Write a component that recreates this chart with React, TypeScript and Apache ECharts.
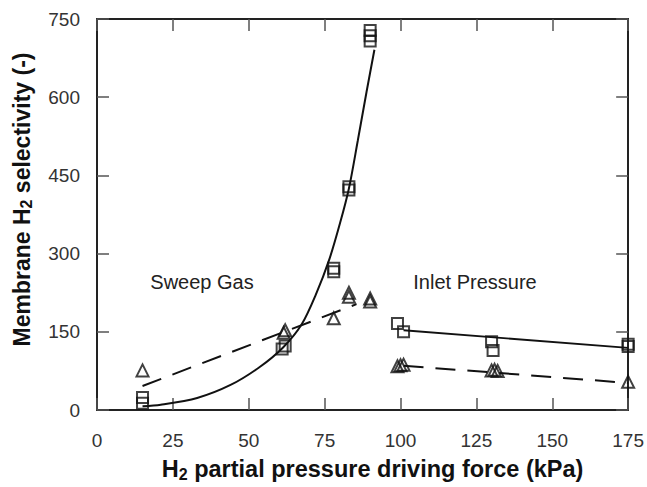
import React, { useEffect, useRef } from 'react';
import * as echarts from 'echarts';

const FONT = '"Liberation Sans", Arial, Helvetica, sans-serif';

// Axis ranges / ticks
const xMin = 0;
const xMax = 175;
const xStep = 25;
const yMin = 0;
const yMax = 750;
const yStep = 150;

// Measured points (x = H2 partial pressure driving force kPa, y = selectivity)
const sweepSquares: [number, number][] = [
  [15, 24], [15, 13], [61, 117], [62, 123], [78, 265], [78, 272],
  [83, 422], [83, 428], [90, 708], [90, 718], [90, 728],
];
const inletSquares: [number, number][] = [
  [99, 166], [101, 150], [130, 131], [130.5, 114], [175, 122], [175, 126],
];
const sweepTriangles: [number, number][] = [
  [15, 76], [61.5, 148], [62, 153], [78, 176], [83, 217], [83, 225], [90, 208], [90, 214],
];
const inletTriangles: [number, number][] = [
  [99, 84], [100, 86], [101, 87], [130, 76], [131, 77], [132, 75], [175, 54],
];

// Fit curves
const sweepSquareFitX = [15, 21, 33, 44, 53.5, 61.3, 67.4, 72, 76.6, 80.1, 83, 85.9, 88.8, 91.4];
const sweepSquareFitY = [7, 10, 23, 48, 82, 120, 164, 220, 290, 359, 425, 516, 610, 691];
const sweepTriangleFit: [number, number][] = [[15, 46], [85.5, 203]];
const inletSquareFit: [number, number][] = [[101, 153], [175, 119]];
const inletTriangleFit: [number, number][] = [[101, 85], [175, 52]];

const annotations = [
  { text: 'Sweep Gas', x: 202, y: 282 },
  { text: 'Inlet Pressure', x: 475, y: 282 },
];

const INK = '#111';

export default function App() {
  const ref = useRef<HTMLDivElement>(null);
  useEffect(() => {
    if (!ref.current) return;
    const chart = echarts.init(ref.current, undefined, { renderer: 'svg' });

    const markStyle = { color: 'rgba(255,255,255,0)', borderColor: INK, borderWidth: 2 };
    const fitX = sweepSquareFitX.map((x, i) => [x, sweepSquareFitY[i]]);

    const axisLine = { show: true, onZero: false, lineStyle: { color: '#222', width: 2 } };
    const tick = { show: true, inside: true, length: 12, lineStyle: { color: '#555', width: 1.5 } };

    chart.setOption({
      animation: false,
      backgroundColor: '#fff',
      grid: { left: 97, right: 13, top: 19, bottom: 70, containLabel: false },
      xAxis: [
        {
          type: 'value', min: xMin, max: xMax, interval: xStep, position: 'bottom',
          axisLine, axisTick: tick, splitLine: { show: false },
          axisLabel: { fontSize: 19, color: '#333', fontFamily: FONT, margin: 21 },
          name: '{t|H}{s|2}{t| partial pressure driving force (kPa)}',
          nameLocation: 'middle', nameGap: 46,
          nameTextStyle: {
            padding: [0, 0, 0, 20],
            rich: {
              t: { fontSize: 23.5, fontWeight: 'bold', fontFamily: FONT, color: INK, lineHeight: 26 },
              s: { fontSize: 16, fontWeight: 'bold', fontFamily: FONT, color: INK, verticalAlign: 'bottom', lineHeight: 20 },
            },
          },
        },
        {
          type: 'value', min: xMin, max: xMax, interval: xStep, position: 'top',
          axisLine, axisTick: tick, axisLabel: { show: false }, splitLine: { show: false },
        },
      ],
      yAxis: [
        {
          type: 'value', min: yMin, max: yMax, interval: yStep, position: 'left',
          axisLine, axisTick: tick, splitLine: { show: false },
          axisLabel: { fontSize: 19, color: '#333', fontFamily: FONT, margin: 17 },
          name: '{t|Membrane H}{s|2}{t| selectivity (-)}',
          nameLocation: 'middle', nameGap: 63, nameRotate: 90,
          nameTextStyle: {
            padding: [0, 0, 0, 30],
            rich: {
              t: { fontSize: 23, fontWeight: 'bold', fontFamily: FONT, color: INK, lineHeight: 25 },
              s: { fontSize: 16, fontWeight: 'bold', fontFamily: FONT, color: INK, verticalAlign: 'bottom', lineHeight: 19 },
            },
          },
        },
        {
          type: 'value', min: yMin, max: yMax, interval: yStep, position: 'right',
          axisLine, axisTick: tick, axisLabel: { show: false }, splitLine: { show: false },
        },
      ],
      series: [
        {
          type: 'line', data: fitX, smooth: 0.3, symbol: 'none',
          lineStyle: { color: INK, width: 2 }, z: 2,
        },
        {
          type: 'line', data: sweepTriangleFit, symbol: 'none',
          lineStyle: { color: INK, width: 2, type: [20, 12] }, z: 2,
        },
        {
          type: 'line', data: inletSquareFit, symbol: 'none',
          lineStyle: { color: INK, width: 1.8 }, z: 2,
        },
        {
          type: 'line', data: inletTriangleFit, symbol: 'none',
          lineStyle: { color: INK, width: 2, type: [20, 12] }, z: 2,
        },
        { type: 'scatter', data: sweepSquares, symbol: 'rect', symbolSize: 11, itemStyle: markStyle, z: 3 },
        { type: 'scatter', data: inletSquares, symbol: 'rect', symbolSize: 11, itemStyle: markStyle, z: 3 },
        { type: 'scatter', data: sweepTriangles, symbol: 'triangle', symbolSize: 12, itemStyle: markStyle, z: 3 },
        { type: 'scatter', data: inletTriangles, symbol: 'triangle', symbolSize: 12, itemStyle: markStyle, z: 3 },
      ],
      graphic: annotations.map((a) => ({
        type: 'text', x: a.x, y: a.y,
        style: {
          text: a.text, fontSize: 20, fontFamily: FONT, fill: '#222',
          textAlign: 'center', textVerticalAlign: 'middle',
        },
      })),
    });
    return () => chart.dispose();
  }, []);
  return <div ref={ref} style={{ width: 647, height: 487, position: 'absolute', left: 0, top: 0 }} />;
}
